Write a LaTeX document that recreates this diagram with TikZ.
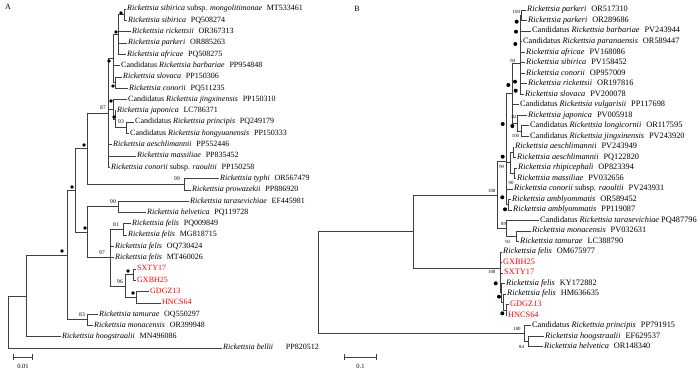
\documentclass[tikz,border=0pt]{standalone}
\usepackage{fontspec}
\setmainfont{Liberation Serif}

\newcommand{\accno}[1]{\hspace{0.6em}\textup{#1}}

\tikzset{
  branch/.style={draw=black!75, line width=0.6pt},
  leaf/.style={anchor=west, inner sep=1pt, font=\fontsize{8}{9}\selectfont,
    text height=5.4pt, text depth=1.5pt},
  leafB/.style={leaf, font=\fontsize{8.3}{9}\selectfont},
  strain/.style={leaf, text=red},
  strainB/.style={leafB, text=red},
  boot/.style={font=\fontsize{5.6}{6}\selectfont, inner sep=0pt},
  bootB/.style={font=\fontsize{4.8}{5}\selectfont, inner sep=0pt},
  panel/.style={font=\fontsize{8}{9}\selectfont, inner sep=0pt},
}

\begin{document}
\begin{tikzpicture}[x=1pt,y=-1pt]
\useasboundingbox (0,0) rectangle (700,372);
\fill[white] (0,0) rectangle (700,372);

% Panel labels
\node[panel] (pA) at (8,7) {A};
\node[panel] (pB) at (357,9) {B};

%%%%%%%%%%%%%%%% Tree A %%%%%%%%%%%%%%%%

% Leaves
\node[leaf] (A1) at (126,9.0) {\textit{Rickettsia sibirica} subsp. \textit{mongolitimonae}\accno{MT533461}};
\node[leaf] (A2) at (127,20.3) {\textit{Rickettsia sibirica}\accno{PQ508274}};
\node[leaf] (A3) at (131,31.6) {\textit{Rickettsia rickettsii}\accno{OR367313}};
\node[leaf] (A4) at (127,42.9) {\textit{Rickettsia parkeri}\accno{OR885263}};
\node[leaf] (A5) at (126,54.2) {\textit{Rickettsia africae}\accno{PQ508275}};
\node[leaf] (A6) at (120,65.5) {Candidatus \textit{Rickettsia barbariae}\accno{PP954848}};
\node[leaf] (A7) at (122,76.8) {\textit{Rickettsia slovaca}\accno{PP150306}};
\node[leaf] (A8) at (128,88.1) {\textit{Rickettsia conorii}\accno{PQ511235}};
\node[leaf] (A9) at (127,99.4) {Candidatus \textit{Rickettsia jingxinensis}\accno{PP150310}};
\node[leaf] (A10) at (116,110.7) {\textit{Rickettsia japonica}\accno{LC786371}};
\node[leaf] (A11) at (134,122.0) {Candidatus \textit{Rickettsia principis}\accno{PQ249179}};
\node[leaf] (A12) at (129,133.3) {Candidatus \textit{Rickettsia hongyuanensis}\accno{PP150333}};
\node[leaf] (A13) at (112,144.6) {\textit{Rickettsia aeschlimannii}\accno{PP552446}};
\node[leaf] (A14) at (136,155.9) {\textit{Rickettsia massiliae}\accno{PP835452}};
\node[leaf] (A15) at (110,167.2) {\textit{Rickettsia conorii} subsp. \textit{raoultii}\accno{PP150258}};
\node[leaf] (A16) at (219,178.5) {\textit{Rickettsia typhi}\accno{OR567479}};
\node[leaf] (A17) at (191,189.8) {\textit{Rickettsia prowazekii}\accno{PP886920}};
\node[leaf] (A18) at (189,201.1) {\textit{Rickettsia tarasevichiae}\accno{EF445981}};
\node[leaf] (A19) at (146,212.4) {\textit{Rickettsia helvetica}\accno{PQ119728}};
\node[leaf] (A20) at (131,223.7) {\textit{Rickettsia felis}\accno{PQ009849}};
\node[leaf] (A21) at (127,235.0) {\textit{Rickettsia felis}\accno{MG818715}};
\node[leaf] (A22) at (114,246.3) {\textit{Rickettsia felis}\accno{OQ730424}};
\node[leaf] (A23) at (114,257.6) {\textit{Rickettsia felis}\accno{MT460026}};
\node[strain] (A24) at (136,268.9) {SXTY17};
\node[strain] (A25) at (136,280.2) {GXBH25};
\node[strain] (A26) at (149,291.5) {GDGZ13};
\node[strain] (A27) at (161,302.8) {HNCS64};
\node[leaf] (A28) at (98,314.1) {\textit{Rickettsia tamurae}\accno{OQ550297}};
\node[leaf] (A29) at (93,325.4) {\textit{Rickettsia monacensis}\accno{OR399948}};
\node[leaf] (A30) at (61,336.7) {\textit{Rickettsia hoogstraalii}\accno{MN496086}};
\node[leaf] (A31) at (222,348.0) {\textit{Rickettsia bellii}\hspace{1.6em}PP820512};

% Internal nodes
\coordinate (a1) at (124,14.65);
\coordinate (a2) at (118,34.4);
\coordinate (a3) at (115,82.45);
\coordinate (a4) at (113,58.4);
\coordinate (a5) at (126,127.65);
\coordinate (a6) at (115,119.2);
\coordinate (a7) at (113,109.3);
\coordinate (a8) at (108,112.8);
\coordinate (a9) at (184,184.15);
\coordinate (a10) at (87,148.5);
\coordinate (a11) at (118,206.75);
\coordinate (a12) at (123,229.35);
\coordinate (a13) at (133,274.55);
\coordinate (a14) at (136,297.15);
\coordinate (a15) at (125,285.85);
\coordinate (a16) at (110,257.6);
\coordinate (a17) at (87,232.2);
\coordinate (a18) at (75,190.35);
\coordinate (a19) at (87,319.75);
\coordinate (a20) at (67,255.05);
\coordinate (a21) at (26,295.9);
\coordinate (rA) at (8,321.95);

% Branches
\draw[branch] (a1) |- (A1.west) (a1) |- (A2.west);
\draw[branch] (a2) |- (a1) (a2) |- (A3.west) (a2) |- (A4.west) (a2) |- (A5.west);
\draw[branch] (a3) |- (A7.west) (a3) |- (A8.west);
\draw[branch] (a4) |- (a2) (a4) |- (A6.west) (a4) |- (a3);
\draw[branch] (a5) |- (A11.west) (a5) |- (A12.west);
\draw[branch] (a6) |- (A10.west) (a6) |- (a5);
\draw[branch] (a7) |- (A9.west) (a7) |- (a6);
\draw[branch] (a8) |- (a4) (a8) |- (a7) (a8) |- (A13.west) (a8) |- (A14.west) (a8) |- (A15.west);
\draw[branch] (a9) |- (A16.west) (a9) |- (A17.west);
\draw[branch] (a10) |- (a8) (a10) |- (a9);
\draw[branch] (a11) |- (A18.west) (a11) |- (A19.west);
\draw[branch] (a12) |- (A20.west) (a12) |- (A21.west);
\draw[branch] (a13) |- (A24.west) (a13) |- (A25.west);
\draw[branch] (a14) |- (A26.west) (a14) |- (A27.west);
\draw[branch] (a15) |- (a13) (a15) |- (a14);
\draw[branch] (a16) |- (a12) (a16) |- (A22.west) (a16) |- (A23.west) (a16) |- (a15);
\draw[branch] (a17) |- (a11) (a17) |- (a16);
\draw[branch] (a18) |- (a10) (a18) |- (a17);
\draw[branch] (a19) |- (A28.west) (a19) |- (A29.west);
\draw[branch] (a20) |- (a18) (a20) |- (a19);
\draw[branch] (a21) |- (a20) (a21) |- (A30.west);
\draw[branch] (rA) |- (a21) (rA) |- (A31.west);

% Bootstrap values
\node[boot] (bA1) at (103,108) {87};
\node[boot] (bA2) at (121,122) {93};
\node[boot] (bA3) at (177,178.5) {99};
\node[boot] (bA4) at (113,202) {90};
\node[boot] (bA5) at (116,224.5) {81};
\node[boot] (bA6) at (102,253) {97};
\node[boot] (bA7) at (120,282) {96};
\node[boot] (bA8) at (82,314.5) {83};

% Full support
\foreach \p in {(121,13),(116,32),(109,61),(113,86),(111,101),(114,117),
                (84,145),(72,187),(85,228),(62,251),(128,271),(133,293)}
  \fill \p circle[radius=1.8pt];

% Scale bar
\coordinate (sA0) at (13,357);
\coordinate (sA1) at (33,357);
\draw[branch,|-|] (sA0) -- (sA1);
\node[panel,font=\fontsize{6.5}{7}\selectfont] (sAl) at (23,366) {0.01};

%%%%%%%%%%%%%%%% Tree B %%%%%%%%%%%%%%%%

% Leaves
\node[leafB] (B1) at (526,10.0) {\textit{Rickettsia parkeri}\accno{OR517310}};
\node[leafB] (B2) at (527,20.5) {\textit{Rickettsia parkeri}\accno{OR289686}};
\node[leafB] (B3) at (531,31.0) {Candidatus \textit{Rickettsia barbariae}\accno{PV243944}};
\node[leafB] (B4) at (522,41.6) {Candidatus \textit{Rickettsia paranaensis}\accno{OR589447}};
\node[leafB] (B5) at (525,52.1) {\textit{Rickettsia africae}\accno{PV168086}};
\node[leafB] (B6) at (525,62.6) {\textit{Rickettsia sibirica}\accno{PV158452}};
\node[leafB] (B7) at (525,73.1) {\textit{Rickettsia conorii}\accno{OP957009}};
\node[leafB] (B8) at (527,83.6) {\textit{Rickettsia rickettsii}\accno{OR197816}};
\node[leafB] (B9) at (524,94.2) {\textit{Rickettsia slovaca}\accno{PV200078}};
\node[leafB] (B10) at (519,104.7) {Candidatus \textit{Rickettsia vulgarisii}\accno{PP117698}};
\node[leafB] (B11) at (527,115.2) {\textit{Rickettsia japonica}\accno{PV005918}};
\node[leafB] (B12) at (529,125.7) {Candidatus \textit{Rickettsia longicornii}\accno{OR117595}};
\node[leafB] (B13) at (529,136.2) {Candidatus \textit{Rickettsia jingxinensis}\accno{PV243920}};
\node[leafB] (B14) at (514,146.8) {\textit{Rickettsia aeschlimannii}\accno{PV243949}};
\node[leafB] (B15) at (516,157.3) {\textit{Rickettsia aeschlimannii}\accno{PQ122820}};
\node[leafB] (B16) at (517,167.8) {\textit{Rickettsia rhipicephali}\accno{OP823394}};
\node[leafB] (B17) at (516,178.3) {\textit{Rickettsia massiliae}\accno{PV032656}};
\node[leafB] (B18) at (513,188.8) {\textit{Rickettsia conorii} subsp. \textit{raoultii}\accno{PV243931}};
\node[leafB] (B19) at (511,199.4) {\textit{Rickettsia amblyommatis}\accno{OR589452}};
\node[leafB] (B20) at (512,209.9) {\textit{Rickettsia amblyommatis}\accno{PP119087}};
\node[leafB] (B21) at (539,220.4) {Candidatus \textit{Rickettsia tarasevichiae} PQ487796};
\node[leafB] (B22) at (531,230.9) {\textit{Rickettsia monacensis}\accno{PV032631}};
\node[leafB] (B23) at (519,241.4) {\textit{Rickettsia tamurae}\accno{LC388790}};
\node[leafB] (B24) at (502,252.0) {\textit{Rickettsia felis}\accno{OM675977}};
\node[strainB] (B25) at (502,262.5) {GXBH25};
\node[strainB] (B26) at (503,273.0) {SXTY17};
\node[leafB] (B27) at (505,283.5) {\textit{Rickettsia felis}\accno{KY172882}};
\node[leafB] (B28) at (506,294.0) {\textit{Rickettsia felis}\accno{HM636635}};
\node[strainB] (B29) at (509,304.6) {GDGZ13};
\node[strainB] (B30) at (507,315.1) {HNCS64};
\node[leafB] (B31) at (531,325.6) {Candidatus \textit{Rickettsia principis}\accno{PP791915}};
\node[leafB] (B32) at (544,336.1) {\textit{Rickettsia hoogstraalii}\accno{EF629537}};
\node[leafB] (B33) at (543,346.6) {\textit{Rickettsia helvetica}\accno{OR148340}};

% Internal nodes
\coordinate (b1) at (521.5,15.25);
\coordinate (b2) at (520,63);
\coordinate (b3) at (512.3,93.2);
\coordinate (b4) at (517,123.45);
\coordinate (b5) at (521.7,130.95);
\coordinate (b6) at (513,152.05);
\coordinate (b7) at (514,173.05);
\coordinate (b8) at (510,162.55);
\coordinate (b9) at (508.5,204.65);
\coordinate (b10) at (506.7,161.7);
\coordinate (b11) at (516.7,236.15);
\coordinate (b12) at (506.7,228.3);
\coordinate (b13) at (497.7,195);
\coordinate (b14) at (506,309.85);
\coordinate (b15) at (503,301.9);
\coordinate (b16) at (501,292.7);
\coordinate (b17) at (500,268);
\coordinate (b18) at (413,231.5);
\coordinate (b19) at (528,341.35);
\coordinate (b20) at (524,333.5);
\coordinate (rB) at (318,282.5);

% Branches
\draw[branch] (b1) |- (B1.west) (b1) |- (B2.west);
\draw[branch] (b2) |- (b1);
\foreach \n in {3,...,9}
  \draw[branch] (b2) |- (B\n.west);
\draw[branch] (b5) |- (B12.west) (b5) |- (B13.west);
\draw[branch] (b4) |- (B11.west) (b4) |- (b5);
\draw[branch] (b3) |- (b2) (b3) |- (B10.west) (b3) |- (b4);
\draw[branch] (b6) |- (B14.west) (b6) |- (B15.west);
\draw[branch] (b7) |- (B16.west) (b7) |- (B17.west);
\draw[branch] (b8) |- (b6) (b8) |- (b7);
\draw[branch] (b9) |- (B19.west) (b9) |- (B20.west);
\draw[branch] (b10) |- (b3) (b10) |- (b8) (b10) |- (B18.west) (b10) |- (b9);
\draw[branch] (b11) |- (B22.west) (b11) |- (B23.west);
\draw[branch] (b12) |- (B21.west) (b12) |- (b11);
\draw[branch] (b13) |- (b10) (b13) |- (b12);
\draw[branch] (b14) |- (B29.west) (b14) |- (B30.west);
\draw[branch] (b15) |- (B28.west) (b15) |- (b14);
\draw[branch] (b16) |- (B27.west) (b16) |- (b15);
\draw[branch] (b17) |- (B24.west) (b17) |- (B25.west) (b17) |- (B26.west) (b17) |- (b16);
\draw[branch] (b18) |- (b13) (b18) |- (b17);
\draw[branch] (b19) |- (B32.west) (b19) |- (B33.west);
\draw[branch] (b20) |- (B31.west) (b20) |- (b19);
\draw[branch] (rB) |- (b18) (rB) |- (b20);

% Bootstrap values
\node[bootB] (bB1) at (516.3,12.3) {100};
\node[bootB] (bB2) at (512.7,60.7) {94};
\node[bootB] (bB3) at (514,117) {82};
\node[bootB] (bB4) at (515.5,135.5) {100};
\node[bootB] (bB5) at (501.7,167.3) {99};
\node[bootB] (bB6) at (511,183) {90};
\node[bootB] (bB7) at (491.7,190.7) {100};
\node[bootB] (bB8) at (503.5,224.3) {89};
\node[bootB] (bB9) at (507.7,241.7) {93};
\node[bootB] (bB10) at (491.7,271.7) {100};
\node[bootB] (bB11) at (517,329.3) {100};
\node[bootB] (bB12) at (521.5,346.7) {84};

% Full support
\foreach \p in {(516.7,21.7),(516,31.7),(515.3,44),(515,81.7),(515.7,90.7),
                (508.3,85),(502.7,124),(512.3,126),(502.7,156.7),(502.3,197.3),
                (505,209.3),(495.7,283.3),(499,296.7),(502.3,313.3)}
  \fill \p circle[radius=2pt];

% Scale bar
\coordinate (sB0) at (344,357);
\coordinate (sB1) at (377,357);
\draw[branch,|-|] (sB0) -- (sB1);
\node[panel,font=\fontsize{6.5}{7}\selectfont] (sBl) at (360.5,366) {0.1};

\end{tikzpicture}
\end{document}
